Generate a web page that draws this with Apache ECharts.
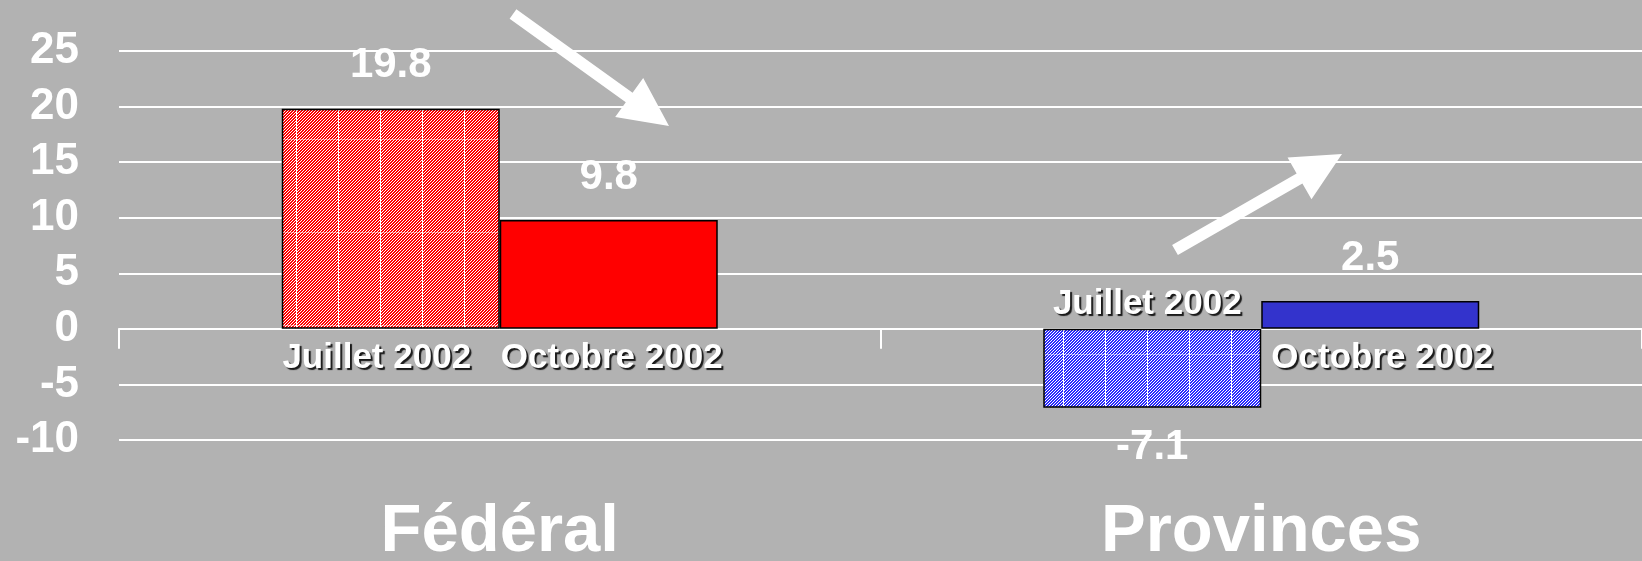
<!DOCTYPE html>
<html>
<head>
<meta charset="utf-8">
<script src="https://cdn.jsdelivr.net/npm/echarts@6/dist/echarts.min.js"></script>
<style>
html, body { margin: 0; padding: 0; background: #b2b2b2; }
#chart { width: 1642px; height: 561px; }
</style>
</head>
<body>
<div id="chart"></div>
<script>
// données
var categories = ['Fédéral', 'Provinces'];
var seriesNames = ['Juillet 2002', 'Octobre 2002'];
var juilletValues = [19.8, -7.1];
var octobreValues = [9.8, 2.5];
var yMin = -10, yMax = 25, yStep = 5;

var boldFont = '"Liberation Sans", Arial, sans-serif';

// motif hachuré (rayures en diagonale + lignes blanches)
function hatch(color, lineX, lineY) {
    var w = 42, h = 93;
    var c = document.createElement('canvas');
    c.width = w;
    c.height = h;
    var ctx = c.getContext('2d');
    ctx.fillStyle = '#ffffff';
    ctx.fillRect(0, 0, w, h);
    ctx.fillStyle = color;
    for (var x = 0; x < w; x++) {
        for (var y = 0; y < h; y++) {
            if ((x + y) % 3 !== 2) ctx.fillRect(x, y, 1, 1);
        }
    }
    ctx.fillStyle = '#ffffff';
    ctx.fillRect(lineX, 0, 1, h);
    ctx.fillStyle = 'rgba(255,255,255,0.45)';
    ctx.fillRect(0, lineY, w, 1);
    return { image: c, repeat: 'repeat' };
}

var juilletFills = [hatch('#ff0000', 2, 46), hatch('#2a2aff', 13, 75)];
var octobreFills = ['#ff0000', '#3333cc'];

// flèche blanche : départ, pointe
function arrow(sx, sy, tx, ty) {
    var dx = tx - sx, dy = ty - sy;
    var len = Math.sqrt(dx * dx + dy * dy);
    var ux = dx / len, uy = dy / len;
    var px = -uy, py = ux;
    var sw = 5.8, hw = 24, hl = 49;
    var bx = tx - ux * hl, by = ty - uy * hl;
    return {
        type: 'polygon',
        silent: true,
        shape: {
            points: [
                [sx + px * sw, sy + py * sw],
                [bx + px * sw, by + py * sw],
                [bx + px * hw, by + py * hw],
                [tx, ty],
                [bx - px * hw, by - py * hw],
                [bx - px * sw, by - py * sw],
                [sx - px * sw, sy - py * sw]
            ]
        },
        style: { fill: '#ffffff' },
        z: 10
    };
}

function valueLabels(values) {
    return values.map(function (v, i) {
        return {
            value: v,
            label: { position: v >= 0 ? 'top' : 'bottom', distance: v >= 0 ? 22 : 19 }
        };
    });
}

function nameMarks(name, values) {
    var shiftX = name === seriesNames[0] ? [-14, -5] : [3, 12];
    return {
        symbol: 'rect',
        symbolSize: 0,
        silent: true,
        animation: false,
        label: {
            show: true,
            formatter: name,
            color: '#ffffff',
            fontFamily: boldFont,
            fontWeight: 'bold',
            fontSize: 35,
            textShadowColor: '#1a1a1a',
            textShadowOffsetX: 2,
            textShadowOffsetY: 2,
            textShadowBlur: 1
        },
        data: categories.map(function (c, i) {
            var pos = values[i] >= 0 ? 'bottom' : 'top';
            return {
                coord: [c, 0],
                label: { position: pos, distance: pos === 'bottom' ? 12 : 7, offset: [shiftX[i], 0] }
            };
        })
    };
}

function barSeries(name, values, fills) {
    return {
        name: name,
        type: 'bar',
        barWidth: 218,
        barGap: '0%',
        data: valueLabels(values),
        itemStyle: {
            color: function (p) { return fills[p.dataIndex]; },
            borderColor: '#000000',
            borderWidth: 1.5
        },
        label: {
            show: true,
            formatter: '{c}',
            color: '#ffffff',
            fontFamily: boldFont,
            fontWeight: 'bold',
            fontSize: 42
        },
        markPoint: nameMarks(name, values)
    };
}

var option = {
    backgroundColor: '#b2b2b2',
    animation: false,
    grid: { left: 119, right: 0, top: 51, bottom: 121, outerBoundsMode: 'none', containLabel: false },
    xAxis: {
        type: 'category',
        data: categories,
        axisLine: { show: true, onZero: true, lineStyle: { color: '#ffffff', width: 2 } },
        axisTick: { show: true, length: 20, lineStyle: { color: '#ffffff', width: 2 } },
        axisLabel: {
            color: '#ffffff',
            fontFamily: boldFont,
            fontWeight: 'bold',
            fontSize: 67,
            margin: 59
        },
        splitLine: { show: false }
    },
    yAxis: {
        type: 'value',
        min: yMin,
        max: yMax,
        interval: yStep,
        axisLine: { show: false },
        axisTick: { show: false },
        axisLabel: {
            color: '#ffffff',
            fontFamily: boldFont,
            fontWeight: 'bold',
            fontSize: 44,
            margin: 40
        },
        splitLine: { lineStyle: { color: '#ffffff', width: 2 } }
    },
    series: [
        barSeries(seriesNames[0], juilletValues, juilletFills),
        barSeries(seriesNames[1], octobreValues, octobreFills)
    ],
    graphic: [
        arrow(513, 14, 669, 126),
        arrow(1175, 250, 1342, 154)
    ]
};

var chart = echarts.init(document.getElementById('chart'));
chart.setOption(option);
</script>
</body>
</html>
